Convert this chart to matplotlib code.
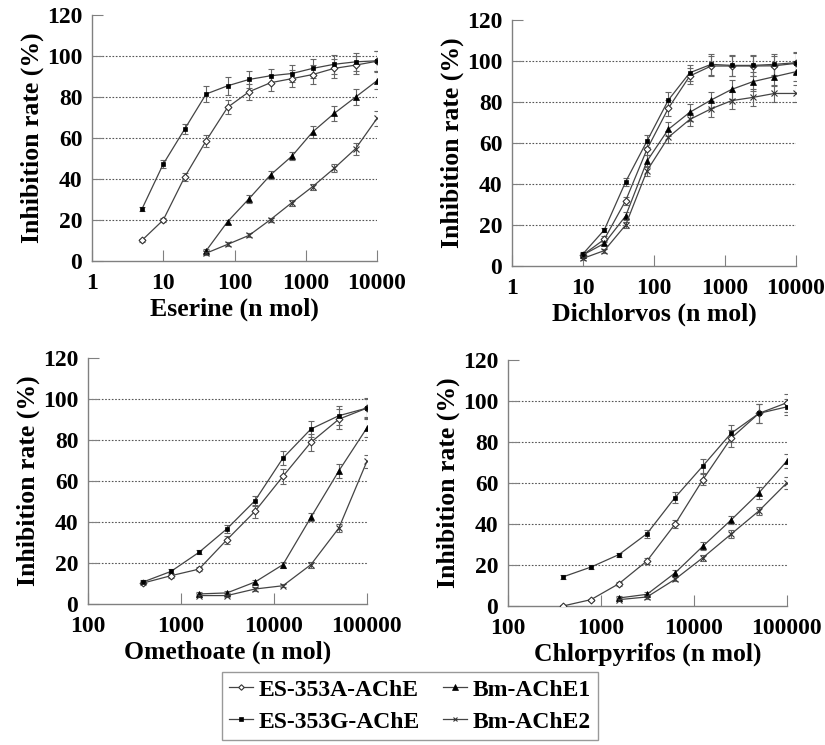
import matplotlib
matplotlib.use("Agg")
import matplotlib.pyplot as plt
from matplotlib.ticker import NullLocator
from matplotlib.lines import Line2D

plt.rcParams['font.family'] = ['Liberation Serif', 'DejaVu Serif']
plt.rcParams['font.weight'] = 'bold'

names = ['ES-353A-AChE', 'ES-353G-AChE', 'Bm-AChE1', 'Bm-AChE2']

# Eserine
ese_dose = [5, 10, 20, 40, 80, 160, 320, 640, 1250, 2500, 5000, 10000]
ese_dose_bm = [40, 80, 160, 320, 640, 1250, 2500, 5000, 10000]
ese_a = [10, 20, 41, 58.7, 75, 82.6, 87, 89, 91, 94, 95.6, 97.5]
ese_a_err = [0.8, 1, 2, 3, 3.5, 4, 4, 4, 4.5, 4.5, 4.5, 5]
ese_g = [25.2, 47.3, 64.4, 81.5, 85.5, 88.6, 90.4, 91.5, 94, 96, 97.2, 97.7]
ese_g_err = [1, 2, 2.5, 4, 4.5, 4, 3.5, 4, 4.5, 4.5, 4.5, 5]
ese_b1 = [5, 19.2, 30.4, 42, 51.2, 63, 72, 80, 88]
ese_b1_err = [1, 1, 2, 2, 2, 3, 3.5, 4, 4]
ese_b2 = [3.8, 8.1, 12.5, 20.2, 28.5, 36.3, 45.2, 54.8, 69.6]
ese_b2_err = [1, 1, 1, 1, 1.5, 1.5, 2, 3, 3.5]

# Dichlorvos
dic_dose = [10, 20, 40, 80, 160, 320, 640, 1250, 2500, 5000, 10000]
dic_a = [5.4, 13, 31.9, 57, 77, 92.7, 97.6, 97.6, 97.6, 97.7, 98.9]
dic_a_err = [1, 1.5, 2, 3, 4, 4, 5, 5, 5, 5, 5]
dic_g = [5.9, 17.6, 41.1, 61, 81, 94.3, 98.4, 97.9, 97.9, 98.4, 99.2]
dic_g_err = [1, 1, 2, 3, 4, 4, 5, 5, 5, 5, 5]
dic_b1 = [5.4, 11, 24.4, 51.2, 66.7, 75, 81, 86.2, 90, 92.4, 94.8]
dic_b1_err = [1, 1, 2, 3, 3.5, 4, 4, 4.5, 4.5, 4.5, 4.5]
dic_b2 = [3.7, 7.5, 20, 46.5, 62.8, 71.5, 76.7, 80.7, 82.3, 84.2, 84.2]
dic_b2_err = [1, 1, 1.5, 2.5, 3, 3, 4, 4, 4, 4, 4]

# Omethoate / Chlorpyrifos share doses
op_dose = [390, 781, 1562, 3125, 6250, 12500, 25000, 50000, 100000]
op_dose_bm = [1562, 3125, 6250, 12500, 25000, 50000, 100000]

ome_a = [10.2, 13.8, 17, 31.4, 45.2, 62.3, 78.9, 90.2, 95.6]
ome_a_err = [1, 1, 1, 2, 3, 3.5, 4, 5, 5]
ome_g = [10.7, 15.9, 25.2, 36.7, 50.4, 71.2, 85.4, 91.9, 95.6]
ome_g_err = [1, 1, 1, 2, 2.5, 3.5, 4, 4.5, 4.5]
ome_b1 = [4.9, 5.4, 10.7, 19.2, 42.3, 65, 85.9]
ome_b1_err = [0.8, 0.8, 1, 1.5, 2, 3.5, 4.5]
ome_b2 = [4.1, 4.1, 7.3, 8.9, 19.2, 37.1, 69.6]
ome_b2_err = [0.5, 0.5, 0.8, 0.8, 1.5, 2, 3]

chl_a = [0, 3.1, 10.9, 22, 39.9, 61.7, 81.8, 94, 99.2]
chl_a_err = [0.5, 0.5, 1, 1.5, 2, 2.5, 4, 4.5, 4.5]
chl_g = [14.2, 19, 25.1, 35.3, 52.9, 68.4, 84.2, 94, 97.2]
chl_g_err = [0.8, 1, 1, 2, 2.5, 3.5, 4, 4.5, 4]
chl_b1 = [3.9, 5.7, 16.1, 29.2, 41.9, 55.2, 70.8]
chl_b1_err = [0.8, 1, 1.5, 2, 2, 3, 3.5]
chl_b2 = [3.1, 4.4, 13, 23.6, 35, 46.4, 60.1]
chl_b2_err = [0.5, 0.8, 1, 1.5, 2, 2, 3]

styles = [
    dict(marker='D', ms=3.5, mfc='white', mec='#333333', mew=0.8),
    dict(marker='s', ms=3.5, mfc='black', mec='black', mew=0.5),
    dict(marker='^', ms=5, mfc='black', mec='black', mew=0.5),
    dict(marker='x', ms=4, mfc='none', mec='#333333', mew=0.8),
]

fig = plt.figure(figsize=(8.25, 7.45), dpi=100)


def panel(rect, series, xlim, ticks, xlabel):
    ax = fig.add_axes(rect)
    for (x, y, e), st in zip(series, styles):
        ax.errorbar(x, y, yerr=e, fmt='none', ecolor='#666666', elinewidth=0.8,
                    capsize=2.5, capthick=0.8, zorder=2)
        ax.plot(x, y, color='#444444', lw=0.9, zorder=3, **st)
    ax.set_xscale('log')
    ax.set_xlim(*xlim)
    ax.set_ylim(0, 120)
    ax.set_xticks(ticks)
    ax.set_xticklabels([str(t) for t in ticks])
    ax.xaxis.set_minor_locator(NullLocator())
    ax.set_yticks(range(0, 121, 20))
    for v in range(20, 101, 20):
        ax.axhline(v, color='#555555', lw=0.8, ls=(0, (1.5, 1.5)), zorder=1)
    for s in ['top', 'right']:
        ax.spines[s].set_visible(False)
    for s in ['left', 'bottom']:
        ax.spines[s].set_color('#808080')
        ax.spines[s].set_linewidth(1)
    ax.tick_params(axis='x', direction='in', length=8, color='#808080',
                   labelsize=17, pad=8.5)
    ax.tick_params(axis='y', direction='in', length=8, color='#808080',
                   labelsize=17, pad=7)
    for lab in ax.get_xticklabels() + ax.get_yticklabels():
        lab.set_fontweight('bold')
    ax.set_xlabel(xlabel, fontsize=18.5, fontweight='bold', labelpad=2.5)
    ax.set_ylabel('Inhibition rate (%)', fontsize=18.5, fontweight='bold', labelpad=2)
    return ax


panel([0.1115, 0.6497, 0.3455, 0.330],
      [(ese_dose, ese_a, ese_a_err), (ese_dose, ese_g, ese_g_err),
       (ese_dose_bm, ese_b1, ese_b1_err), (ese_dose_bm, ese_b2, ese_b2_err)],
      (1, 10000), [1, 10, 100, 1000, 10000], 'Eserine (n mol)')

panel([0.6206, 0.643, 0.344, 0.330],
      [(dic_dose, dic_a, dic_a_err), (dic_dose, dic_g, dic_g_err),
       (dic_dose, dic_b1, dic_b1_err), (dic_dose, dic_b2, dic_b2_err)],
      (1, 10000), [1, 10, 100, 1000, 10000], 'Dichlorvos (n mol)')

panel([0.1067, 0.1893, 0.338, 0.330],
      [(op_dose, ome_a, ome_a_err), (op_dose, ome_g, ome_g_err),
       (op_dose_bm, ome_b1, ome_b1_err), (op_dose_bm, ome_b2, ome_b2_err)],
      (100, 100000), [100, 1000, 10000, 100000], 'Omethoate (n mol)')

panel([0.6158, 0.1866, 0.338, 0.330],
      [(op_dose, chl_a, chl_a_err), (op_dose, chl_g, chl_g_err),
       (op_dose_bm, chl_b1, chl_b1_err), (op_dose_bm, chl_b2, chl_b2_err)],
      (100, 100000), [100, 1000, 10000, 100000], 'Chlorpyrifos (n mol)')

handles = [Line2D([], [], color='#444444', lw=0.9, **dict(st, ms=st['ms'] * 0.8))
           for st in styles]
leg = fig.legend(handles, names,
                 loc='upper left', bbox_to_anchor=(0.269, 0.098), ncol=2,
                 fontsize=17, frameon=True, fancybox=False, edgecolor='#808080',
                 handlelength=1.0, handletextpad=0.25, columnspacing=1.0,
                 labelspacing=0.45, borderpad=0.3, borderaxespad=0)
leg.get_frame().set_linewidth(1)
for t in leg.get_texts():
    t.set_fontweight('bold')

fig.savefig('out.png', dpi=100)
